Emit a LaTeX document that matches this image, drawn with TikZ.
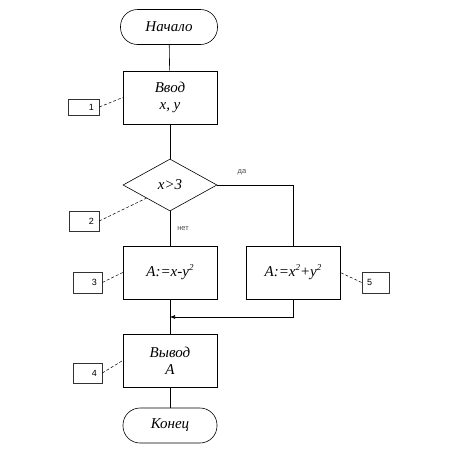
\documentclass[tikz,border=0pt]{standalone}
\usepackage{fontspec}
\setmainfont{Liberation Serif}
\newfontfamily\lblfont{Liberation Sans}
\usetikzlibrary{shapes.geometric,arrows.meta,calc}
\newcommand{\supx}[1]{\raisebox{0.85ex}{\fontsize{9}{9}\selectfont #1}}
\tikzset{
  base/.style={draw=black, line width=0.6pt, font=\fontsize{15}{17}\selectfont\itshape, align=center, inner sep=0pt},
  term/.style={base, minimum width=97pt, minimum height=35pt, rounded corners=17pt},
  proc/.style={base, minimum width=94pt, minimum height=53pt},
  cond/.style={base, diamond, minimum width=94pt, minimum height=52pt},
  lbl/.style={draw=black!80, line width=0.6pt, font=\lblfont\fontsize{9}{10}\selectfont, inner ysep=0pt, inner xsep=5pt},
  lead/.style={line width=0.5pt, densely dashed},
  conn/.style={line width=0.6pt},
  small/.style={font=\lblfont\fontsize{7.5}{8}\selectfont, text=black!70}
}
\begin{document}
\begin{tikzpicture}[x=1pt,y=1pt]
\useasboundingbox (0,0) rectangle (467,-459);
\node[term] (start) at (169,-27) {Начало};
\node[proc] (inp) at (170,-97.5) {Ввод\\x, y};
\node[cond] (dec) at (170,-185) {x>3};
\node[proc] (b3) at (170,-272.5) {A:=x-y\supx{2}};
\node[proc] (b5) at (293,-272.5) {A:=x\supx{2}+y\supx{2}};
\node[proc] (out) at (170,-360.5) {Вывод\\A};
\node[term, minimum width=94pt] (end) at (170,-425.5) {Конец};

\node[lbl, text width=21pt, align=right, minimum height=16pt] (l1) at (83.5,-107) {1};
\node[lbl, text width=20pt, align=right, minimum height=20pt] (l2) at (84,-221) {2};
\node[lbl, text width=19pt, align=right, minimum height=21pt] (l3) at (87.5,-282.5) {3};
\node[lbl, text width=19pt, align=right, minimum height=20pt] (l4) at (87.5,-373) {4};
\node[lbl, text width=17pt, align=left, minimum height=21pt] (l5) at (375.5,-282.5) {5};

\draw[lead] (l1.east) -- (inp.west);
\draw[lead] (l2.east) -- ($(dec.west)!0.5!(dec.south)$);
\draw[lead] (l3.east) -- (b3.west);
\draw[lead] (l4.east) -- (out.west);
\draw[lead] (l5.west) -- (b5.east);

\coordinate (merge) at (170,-317);
\draw[conn] (start) -- (inp);
\draw[conn] (inp) -- (dec);
\draw[conn] (dec.south) -- (b3.north);
\draw[conn] (dec.east) -| (b5.north);
\draw[conn] (b3.south) -- (out.north);
\draw[conn, -{Latex[length=5pt,width=4pt]}] (b5.south) |- (merge);
\draw[conn] (out.south) -- (end.north);

\node[small] (yes) at (242,-172) {да};
\node[small] (no) at (183,-229) {нет};
\end{tikzpicture}
\end{document}
